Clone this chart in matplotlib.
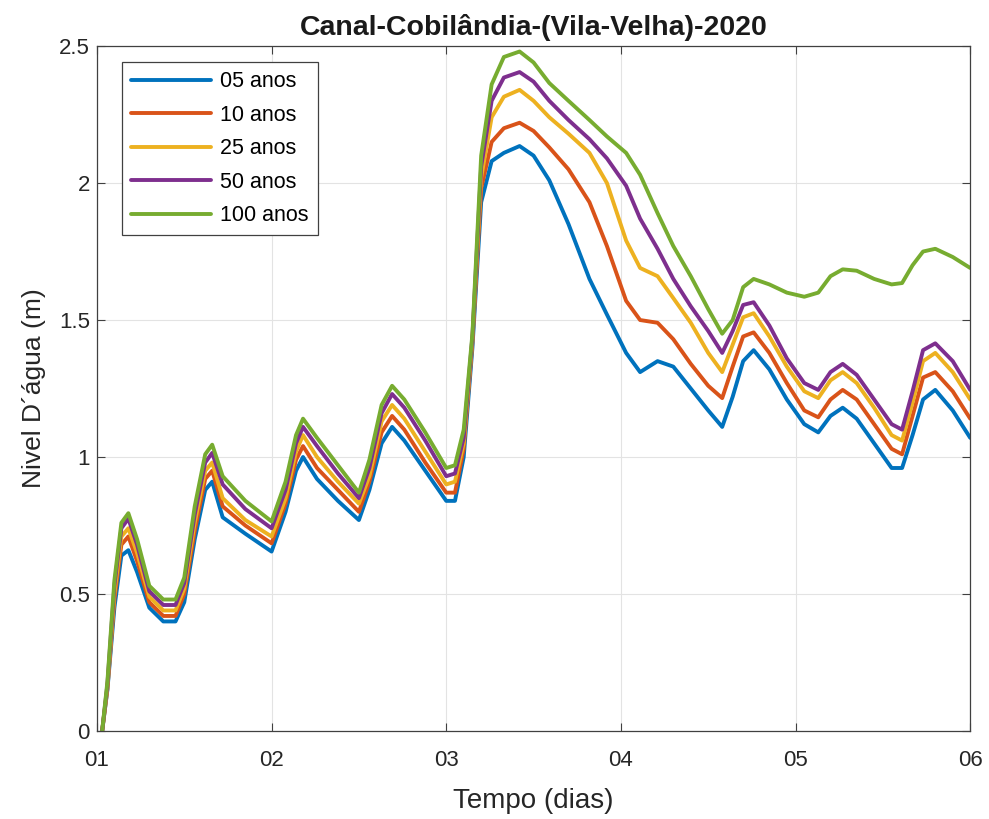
import matplotlib
matplotlib.use("Agg")
import matplotlib.pyplot as plt

plt.rcParams['font.family'] = ['Liberation Sans', 'DejaVu Sans']

t = [0.03, 0.06, 0.10, 0.14, 0.18, 0.23, 0.30, 0.38, 0.45, 0.50, 0.56, 0.62, 0.66, 0.72, 0.85,
     1.00, 1.08, 1.14, 1.18, 1.26, 1.38, 1.50, 1.56, 1.63, 1.69, 1.76, 1.88, 2.00, 2.05, 2.10,
     2.15, 2.20, 2.26, 2.33, 2.42, 2.50, 2.59, 2.70, 2.82, 2.92, 3.03, 3.11, 3.21, 3.30, 3.40,
     3.50, 3.58, 3.64, 3.70, 3.76, 3.85, 3.95, 4.05, 4.13, 4.20, 4.27, 4.35, 4.45, 4.55, 4.61,
     4.67, 4.73, 4.80, 4.90, 5.00]

s05 = [0.0, 0.15, 0.45, 0.64, 0.66, 0.58, 0.45, 0.40, 0.40, 0.47, 0.70, 0.88, 0.91, 0.78, 0.72,
       0.655, 0.80, 0.95, 1.00, 0.92, 0.84, 0.77, 0.88, 1.05, 1.11, 1.06, 0.95, 0.84, 0.84, 1.00,
       1.40, 1.93, 2.08, 2.11, 2.135, 2.10, 2.01, 1.85, 1.65, 1.52, 1.38, 1.31, 1.35, 1.33, 1.25,
       1.17, 1.11, 1.22, 1.35, 1.39, 1.32, 1.21, 1.12, 1.09, 1.15, 1.18, 1.14, 1.05, 0.96, 0.96,
       1.08, 1.21, 1.245, 1.17, 1.07]

s10 = [0.0, 0.155, 0.48, 0.68, 0.71, 0.62, 0.47, 0.42, 0.42, 0.50, 0.73, 0.92, 0.95, 0.82, 0.75,
       0.685, 0.83, 0.99, 1.04, 0.96, 0.88, 0.80, 0.91, 1.09, 1.15, 1.10, 0.98, 0.87, 0.87, 1.03,
       1.42, 1.98, 2.15, 2.20, 2.22, 2.19, 2.13, 2.05, 1.93, 1.77, 1.57, 1.50, 1.49, 1.43, 1.34,
       1.26, 1.215, 1.33, 1.44, 1.455, 1.38, 1.27, 1.17, 1.145, 1.21, 1.245, 1.21, 1.12, 1.03, 1.01,
       1.15, 1.29, 1.31, 1.24, 1.14]

s25 = [0.0, 0.16, 0.50, 0.71, 0.74, 0.65, 0.49, 0.44, 0.44, 0.52, 0.76, 0.95, 0.98, 0.85, 0.77,
       0.71, 0.85, 1.02, 1.08, 1.00, 0.91, 0.83, 0.93, 1.13, 1.19, 1.14, 1.02, 0.90, 0.91, 1.05,
       1.43, 2.02, 2.24, 2.315, 2.34, 2.30, 2.24, 2.18, 2.11, 2.00, 1.79, 1.69, 1.66, 1.58, 1.49,
       1.38, 1.31, 1.41, 1.51, 1.525, 1.44, 1.33, 1.24, 1.215, 1.28, 1.31, 1.27, 1.18, 1.08, 1.06,
       1.20, 1.35, 1.38, 1.31, 1.21]

s50 = [0.0, 0.17, 0.53, 0.74, 0.775, 0.68, 0.51, 0.46, 0.46, 0.54, 0.79, 0.98, 1.015, 0.90, 0.81,
       0.74, 0.88, 1.05, 1.11, 1.04, 0.94, 0.85, 0.96, 1.16, 1.23, 1.18, 1.06, 0.93, 0.94, 1.07,
       1.44, 2.06, 2.30, 2.385, 2.405, 2.37, 2.30, 2.23, 2.16, 2.09, 1.99, 1.87, 1.76, 1.65, 1.55,
       1.46, 1.38, 1.46, 1.555, 1.565, 1.48, 1.36, 1.27, 1.245, 1.31, 1.34, 1.30, 1.21, 1.12, 1.10,
       1.24, 1.39, 1.415, 1.35, 1.245]

s100 = [0.0, 0.18, 0.55, 0.76, 0.795, 0.70, 0.53, 0.48, 0.48, 0.56, 0.82, 1.01, 1.045, 0.93, 0.84,
        0.765, 0.91, 1.08, 1.14, 1.07, 0.97, 0.87, 0.99, 1.19, 1.26, 1.21, 1.09, 0.96, 0.97, 1.10,
        1.45, 2.10, 2.36, 2.46, 2.48, 2.44, 2.365, 2.30, 2.23, 2.17, 2.11, 2.03, 1.89, 1.77, 1.66,
        1.54, 1.45, 1.50, 1.62, 1.65, 1.63, 1.60, 1.585, 1.60, 1.66, 1.685, 1.68, 1.65, 1.63, 1.635,
        1.70, 1.75, 1.76, 1.73, 1.69]

series = [s05, s10, s25, s50, s100]
labels = ['05 anos', '10 anos', '25 anos', '50 anos', '100 anos']
colors = ['#0072BD', '#D95319', '#EDB120', '#7E2F8E', '#77AC30']
xtick_labels = ['01', '02', '03', '04', '05', '06']
ytick_vals = [0, 0.5, 1, 1.5, 2, 2.5]
ytick_labels = ['0', '0.5', '1', '1.5', '2', '2.5']

fig = plt.figure(figsize=(9.89, 8.19), dpi=100)
ax = fig.add_axes([0.098, 0.1074, 0.883, 0.8364])

for s, lab, c in zip(series, labels, colors):
    ax.plot(t, s, color=c, lw=2.8, label=lab, solid_joinstyle='round', solid_capstyle='round')

ax.set_xlim(0, 5)
ax.set_ylim(0, 2.5)
ax.set_xticks(range(6))
ax.set_xticklabels(xtick_labels)
ax.set_yticks(ytick_vals)
ax.set_yticklabels(ytick_labels)
ax.grid(True, color='#e3e3e3', lw=0.8)
ax.set_axisbelow(True)
ax.tick_params(direction='in', top=True, right=True, labelsize=16, length=6,
               color='#404040', labelcolor='#262626')
ax.tick_params(axis='x', pad=14)
ax.tick_params(axis='y', pad=5)
for sp in ax.spines.values():
    sp.set_color('#404040')
    sp.set_linewidth(0.9)

ax.set_title('Canal-Cobilândia-(Vila-Velha)-2020', fontsize=20.5, fontweight='bold', pad=8,
             color='#1a1a1a')
ax.set_xlabel('Tempo (dias)', fontsize=20, color='#262626', labelpad=12)
ax.set_ylabel('Nivel D´água (m)', fontsize=19, color='#262626', labelpad=9)

leg = ax.legend(loc='upper left', bbox_to_anchor=(0.0286, 0.9766), fontsize=15.5,
                handlelength=3.7, handletextpad=0.45, labelspacing=0.58,
                fancybox=False, edgecolor='#404040', framealpha=1, borderpad=0.42,
                borderaxespad=0)
leg.get_frame().set_linewidth(0.9)

fig.savefig('out.png', dpi=100)
